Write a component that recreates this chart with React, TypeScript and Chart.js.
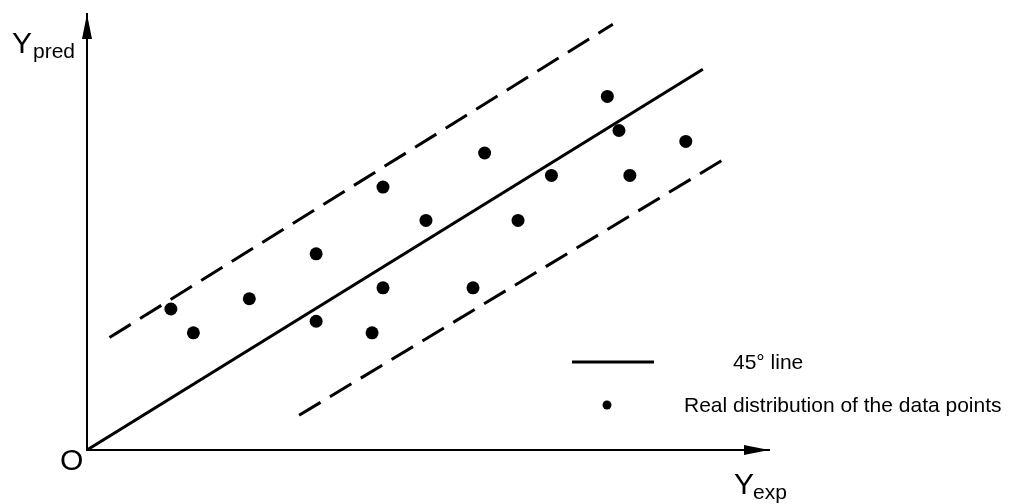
import React, { useEffect, useRef } from "react";
import { Chart, registerables } from "chart.js";

Chart.register(...registerables);

// Data (axis units: x 0..100, y 0..64)
const expValues = [12.3, 15.6, 23.8, 33.6, 33.6, 43.4, 43.4, 41.8, 49.7, 58.3, 56.6, 63.2, 68.1, 76.3, 78.0, 79.6, 87.8];
const predValues = [20.7, 17.2, 22.2, 28.8, 18.9, 38.6, 23.8, 17.2, 33.7, 43.6, 23.8, 33.7, 40.3, 51.9, 46.9, 40.3, 45.3];

const lineX = [0, 90.3];
const lineY = [0, 55.9];
const upperX = [3.3, 77.1];
const upperY = [16.5, 62.5];
const lowerX = [31.1, 93.6];
const lowerY = [5.1, 42.8];

const legendLabels = ["45\u00b0 line", "Real distribution of the data points"];
const axisLabels = { y: ["Y", "pred"], x: ["Y", "exp"], origin: "O" };

const FONT = '"Liberation Sans", Arial, Helvetica, sans-serif';

const toPts = (xs: number[], ys: number[]) => xs.map((x, i) => ({ x, y: ys[i] }));

const decorPlugin = {
  id: "decor",
  afterDraw(chart: any) {
    const { ctx, chartArea, scales } = chart;
    const ox = scales.x.getPixelForValue(0);
    const oy = scales.y.getPixelForValue(0);
    const top = chartArea.top;
    const right = chartArea.right;
    ctx.save();
    ctx.fillStyle = "#000";
    ctx.strokeStyle = "#000";
    // arrowheads
    ctx.beginPath();
    ctx.moveTo(ox, top);
    ctx.lineTo(ox - 5, top + 25);
    ctx.lineTo(ox + 5, top + 25);
    ctx.closePath();
    ctx.fill();
    ctx.beginPath();
    ctx.moveTo(right, oy);
    ctx.lineTo(right - 25, oy - 5);
    ctx.lineTo(right - 25, oy + 5);
    ctx.closePath();
    ctx.fill();
    // axis labels
    ctx.textBaseline = "alphabetic";
    ctx.textAlign = "left";
    ctx.font = `30px ${FONT}`;
    ctx.fillText(axisLabels.y[0], ox - 75, top + 39);
    ctx.font = `21px ${FONT}`;
    ctx.fillText(axisLabels.y[1], ox - 54, top + 44);
    ctx.font = `30px ${FONT}`;
    ctx.fillText(axisLabels.x[0], right - 35, oy + 44);
    ctx.font = `21px ${FONT}`;
    ctx.fillText(axisLabels.x[1], right - 16, oy + 49);
    ctx.font = `30px ${FONT}`;
    ctx.fillText(axisLabels.origin, ox - 27, oy + 20);
    // legend
    ctx.lineWidth = 3;
    ctx.beginPath();
    ctx.moveTo(572, 362);
    ctx.lineTo(654, 362);
    ctx.stroke();
    ctx.beginPath();
    ctx.arc(607, 405, 4.5, 0, Math.PI * 2);
    ctx.fill();
    ctx.font = `21px ${FONT}`;
    ctx.fillText(legendLabels[0], 733, 369);
    ctx.fillText(legendLabels[1], 684, 412);
    ctx.restore();
  },
};

export default function App() {
  const ref = useRef<HTMLCanvasElement | null>(null);
  useEffect(() => {
    if (!ref.current) return;
    const chart = new Chart(ref.current, {
      type: "scatter",
      data: {
        datasets: [
          {
            type: "line",
            data: toPts(lineX, lineY),
            borderColor: "#000",
            borderWidth: 3,
            pointRadius: 0,
            fill: false,
          },
          {
            type: "line",
            data: toPts(upperX, upperY),
            borderColor: "#000",
            borderWidth: 3,
            borderDash: [25, 11],
            pointRadius: 0,
            fill: false,
          },
          {
            type: "line",
            data: toPts(lowerX, lowerY),
            borderColor: "#000",
            borderWidth: 3,
            borderDash: [25, 11],
            pointRadius: 0,
            fill: false,
          },
          {
            type: "scatter",
            data: toPts(expValues, predValues),
            backgroundColor: "#000",
            borderWidth: 0,
            pointRadius: 6.5,
            pointHoverRadius: 6.5,
          },
        ],
      },
      options: {
        animation: false,
        responsive: true,
        maintainAspectRatio: false,
        layout: { padding: { left: 87, top: 14, right: 241, bottom: 54 } },
        plugins: { legend: { display: false }, tooltip: { enabled: false } },
        scales: {
          x: {
            type: "linear",
            min: 0,
            max: 100,
            grid: { display: false, drawTicks: false },
            border: { display: true, color: "#000", width: 2 },
            ticks: { display: false },
          },
          y: {
            type: "linear",
            min: 0,
            max: 64,
            grid: { display: false, drawTicks: false },
            border: { display: true, color: "#000", width: 2 },
            ticks: { display: false },
          },
        },
      },
      plugins: [decorPlugin],
    });
    return () => chart.destroy();
  }, []);
  return (
    <div style={{ position: "fixed", left: 0, top: 0, width: 1010, height: 504, background: "#fff" }}>
      <canvas ref={ref} />
    </div>
  );
}
